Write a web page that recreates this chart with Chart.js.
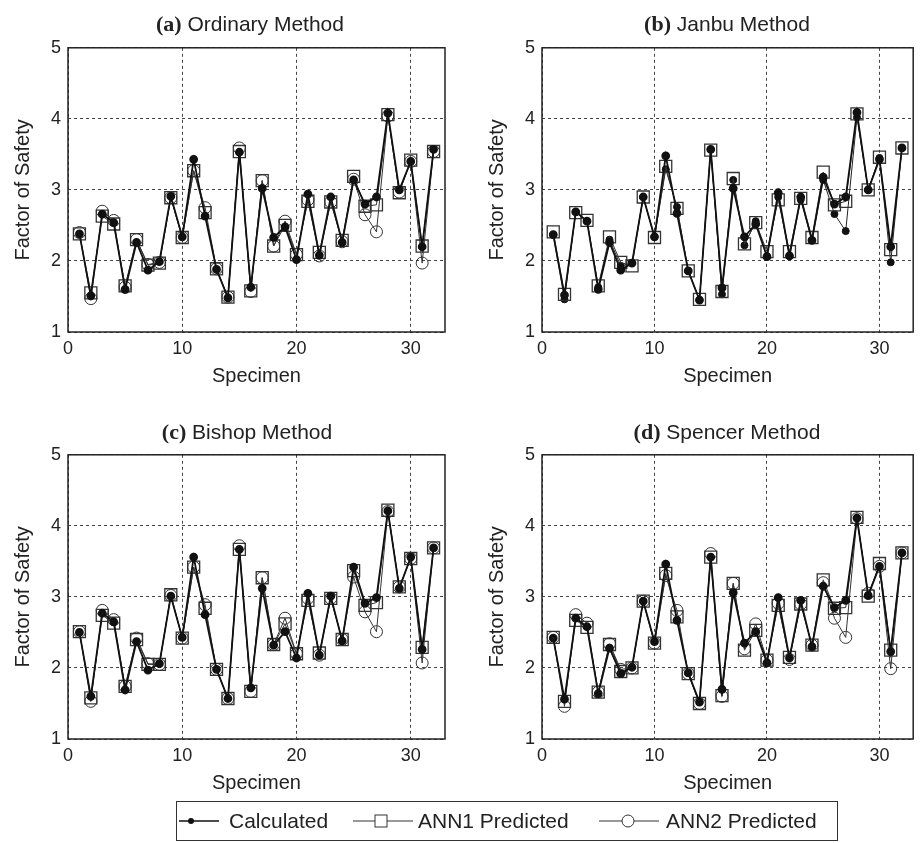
<!DOCTYPE html>
<html lang="en">
<head>
<meta charset="UTF-8">
<title>Factor of Safety - Calculated vs ANN</title>
<script src="https://cdn.jsdelivr.net/npm/chart.js"></script>
<style>
  body { margin: 0; background: #fff; width: 923px; height: 843px; position: relative; overflow: hidden; font-family: "Liberation Sans", Arial, sans-serif; color: #222; }
  .panel { position: absolute; width: 460px; height: 370px; }
  .ttl { position: absolute; font-size: 21px; white-space: nowrap; transform: translate(-50%, -50%); }
  .ttl b { font-family: "Liberation Serif", "Times New Roman", serif; font-size: 22px; }
  #legend { position: absolute; left: 176px; top: 801px; width: 662px; height: 40px; border: 1.5px solid #333; box-sizing: border-box; font-size: 21px; }
  #legend span { position: absolute; top: 7px; }
  #legend svg { position: absolute; top: 4px; }
</style>
</head>
<body>
<div class="panel" style="left:0;top:30px"><canvas id="cA"></canvas></div>
<div class="panel" style="left:474px;top:30px;width:449px"><canvas id="cB"></canvas></div>
<div class="panel" style="left:0;top:437px"><canvas id="cC"></canvas></div>
<div class="panel" style="left:474px;top:437px;width:449px"><canvas id="cD"></canvas></div>

<div class="ttl" style="left:250px;top:24px"><b>(a)</b> Ordinary Method</div>
<div class="ttl" style="left:727px;top:24px"><b>(b)</b> Janbu Method</div>
<div class="ttl" style="left:247px;top:432px"><b>(c)</b> Bishop Method</div>
<div class="ttl" style="left:727px;top:432px"><b>(d)</b> Spencer Method</div>

<div id="legend">
  <svg width="40" height="30" style="left:2px"><line x1="0" y1="15" x2="40" y2="15" stroke="#111" stroke-width="1.5"/><circle cx="12" cy="15" r="3" fill="#111"/></svg>
  <span style="left:52px">Calculated</span>
  <svg width="60" height="30" style="left:176px"><line x1="0" y1="15" x2="60" y2="15" stroke="#333" stroke-width="1"/><rect x="22" y="9" width="12" height="12" fill="#fff" stroke="#333" stroke-width="1"/></svg>
  <span style="left:241px">ANN1 Predicted</span>
  <svg width="60" height="30" style="left:422px"><line x1="0" y1="15" x2="60" y2="15" stroke="#333" stroke-width="1"/><circle cx="29" cy="15" r="6" fill="#fff" stroke="#333" stroke-width="1"/></svg>
  <span style="left:489px">ANN2 Predicted</span>
</div>

<script>
// specimen numbers and axis ticks
const specimen = [1,2,3,4,5,6,7,8,9,10,11,12,13,14,15,16,17,18,19,20,21,22,23,24,25,26,27,28,29,30,31,32];
const xTicks = [0, 10, 20, 30];
const yTicks = [1, 2, 3, 4, 5];

// (a) Ordinary Method
const calcOrd = [2.38,1.51,2.66,2.54,1.60,2.26,1.87,1.99,2.91,2.34,3.43,2.63,1.88,1.48,3.53,1.63,3.02,2.33,2.48,2.02,2.94,2.08,2.90,2.26,3.14,2.80,2.90,4.08,3.00,3.40,2.20,3.57];
const ann1Ord = [2.38,1.55,2.63,2.52,1.65,2.30,1.94,1.97,2.89,2.33,3.27,2.68,1.89,1.49,3.54,1.58,3.13,2.21,2.50,2.09,2.84,2.12,2.83,2.29,3.19,2.77,2.79,4.06,2.96,3.42,2.21,3.54];
const ann2Ord = [2.40,1.47,2.70,2.57,1.63,2.30,1.95,1.98,2.89,2.33,3.27,2.75,1.89,1.49,3.59,1.57,3.13,2.21,2.56,2.09,2.86,2.07,2.83,2.27,3.15,2.65,2.41,4.04,2.97,3.40,1.97,3.54];

// (b) Janbu Method
const calcJan = [2.37,1.52,2.69,2.56,1.60,2.26,1.87,1.97,2.90,2.34,3.48,2.67,1.86,1.45,3.57,1.62,3.02,2.34,2.52,2.06,2.96,2.07,2.90,2.29,3.18,2.80,2.90,4.09,3.00,3.43,2.20,3.59];
const ann1Jan = [2.41,1.53,2.68,2.57,1.65,2.34,1.98,1.93,2.90,2.33,3.33,2.74,1.86,1.46,3.56,1.57,3.16,2.24,2.54,2.13,2.86,2.13,2.88,2.33,3.25,2.79,2.84,4.07,3.00,3.46,2.16,3.59];
const ann2Jan = [2.37,1.46,2.69,2.56,1.63,2.30,1.93,1.97,2.90,2.34,3.29,2.76,1.86,1.45,3.57,1.53,3.14,2.22,2.56,2.06,2.90,2.07,2.86,2.29,3.14,2.66,2.42,4.02,3.00,3.45,1.98,3.59];

// (c) Bishop Method
const calcBis = [2.50,1.60,2.77,2.65,1.69,2.37,1.97,2.06,3.01,2.43,3.56,2.75,1.98,1.57,3.67,1.72,3.12,2.32,2.51,2.14,3.05,2.18,3.01,2.38,3.42,2.91,2.99,4.21,3.12,3.56,2.26,3.69];
const ann1Bis = [2.51,1.58,2.74,2.63,1.74,2.40,2.05,2.05,3.03,2.42,3.42,2.84,1.98,1.57,3.67,1.67,3.27,2.33,2.62,2.20,2.95,2.21,2.98,2.40,3.37,2.88,2.92,4.22,3.14,3.54,2.29,3.69];
const ann2Bis = [2.51,1.53,2.81,2.68,1.74,2.42,2.06,2.05,3.02,2.42,3.42,2.89,1.98,1.57,3.72,1.67,3.27,2.33,2.70,2.20,2.98,2.18,2.98,2.40,3.28,2.79,2.51,4.20,3.14,3.54,2.07,3.69];

// (d) Spencer Method
const calcSpe = [2.42,1.56,2.70,2.58,1.64,2.28,1.92,2.01,2.94,2.37,3.46,2.67,1.93,1.52,3.56,1.70,3.06,2.35,2.51,2.07,2.99,2.14,2.95,2.30,3.15,2.85,2.95,4.11,3.02,3.43,2.23,3.62];
const ann1Spe = [2.43,1.53,2.67,2.57,1.66,2.33,1.95,2.00,2.94,2.35,3.33,2.72,1.92,1.50,3.56,1.61,3.19,2.25,2.53,2.11,2.88,2.15,2.90,2.32,3.24,2.84,2.85,4.12,3.01,3.47,2.25,3.62];
const ann2Spe = [2.43,1.46,2.75,2.63,1.66,2.34,1.98,2.00,2.94,2.35,3.30,2.81,1.92,1.50,3.61,1.60,3.19,2.27,2.62,2.11,2.91,2.12,2.90,2.32,3.20,2.70,2.43,4.10,3.05,3.43,1.99,3.62];

// solid box around the plot area
const frame = {
  id: 'frame',
  beforeDatasetsDraw(chart) {
    const a = chart.chartArea, ctx = chart.ctx;
    ctx.save();
    ctx.strokeStyle = '#222';
    ctx.lineWidth = 1.5;
    ctx.strokeRect(a.left, a.top, a.right - a.left, a.bottom - a.top);
    ctx.restore();
  }
};

function pts(vals) {
  return specimen.map((s, i) => ({ x: s, y: vals[i] }));
}

function makeChart(id, calc, ann1, ann2, ann2Filled, rightPad) {
  new Chart(document.getElementById(id), {
    type: 'scatter',
    data: {
      datasets: [
        { label: 'Calculated', data: pts(calc), showLine: true, borderColor: '#111', borderWidth: 1.8,
          pointStyle: 'circle', pointRadius: 3.5, pointBackgroundColor: '#111', pointBorderColor: '#111', order: 0 },
        { label: 'ANN1 Predicted', data: pts(ann1), showLine: true, borderColor: '#333', borderWidth: 1,
          pointStyle: 'rect', pointRadius: 8.5, pointBackgroundColor: 'rgba(0,0,0,0)', pointBorderColor: '#333', pointBorderWidth: 1.3, order: 1 },
        ann2Filled
          ? { label: 'ANN2 Predicted', data: pts(ann2), showLine: true, borderColor: '#222', borderWidth: 1,
              pointStyle: 'circle', pointRadius: 3.5, pointBackgroundColor: '#111', pointBorderColor: '#111', order: 2 }
          : { label: 'ANN2 Predicted', data: pts(ann2), showLine: true, borderColor: '#333', borderWidth: 1,
              pointStyle: 'circle', pointRadius: 6, pointBackgroundColor: 'rgba(0,0,0,0)', pointBorderColor: '#333', pointBorderWidth: 1, order: 2 }
      ]
    },
    options: {
      responsive: false,
      animation: false,
      events: [],
      layout: { padding: { top: 14, right: rightPad, left: 0, bottom: 0 } },
      plugins: { legend: { display: false }, tooltip: { enabled: false } },
      scales: {
        x: {
          type: 'linear', min: 0, max: 33,
          afterBuildTicks: s => { s.ticks = xTicks.map(v => ({ value: v })); },
          afterFit: s => { s.height = 68; },
          grid: { color: '#444', lineWidth: 1, drawTicks: false },
          border: { display: false, dash: [3, 3] },
          ticks: { color: '#222', padding: 6, font: { family: 'Liberation Sans', size: 18 } },
          title: { display: true, text: 'Specimen', color: '#222', padding: { top: 0, bottom: 12 },
                   font: { family: 'Liberation Sans', size: 20 } }
        },
        y: {
          type: 'linear', min: 1, max: 5,
          afterBuildTicks: s => { s.ticks = yTicks.map(v => ({ value: v })); },
          afterFit: s => { s.width = 68; },
          grid: { color: '#444', lineWidth: 1, drawTicks: false },
          border: { display: false, dash: [3, 3] },
          ticks: { color: '#222', padding: 7, font: { family: 'Liberation Sans', size: 18 } },
          title: { display: true, text: 'Factor of Safety', color: '#222', padding: { top: 11, bottom: 0 },
                   font: { family: 'Liberation Sans', size: 20 } }
        }
      }
    },
    plugins: [frame]
  });
}

['cA', 'cB', 'cC', 'cD'].forEach(id => {
  const c = document.getElementById(id);
  c.width = c.parentElement.offsetWidth;
  c.height = 370;
});

makeChart('cA', calcOrd, ann1Ord, ann2Ord, false, 15);
makeChart('cB', calcJan, ann1Jan, ann2Jan, true, 4);
makeChart('cC', calcBis, ann1Bis, ann2Bis, false, 15);
makeChart('cD', calcSpe, ann1Spe, ann2Spe, false, 4);
</script>
</body>
</html>
